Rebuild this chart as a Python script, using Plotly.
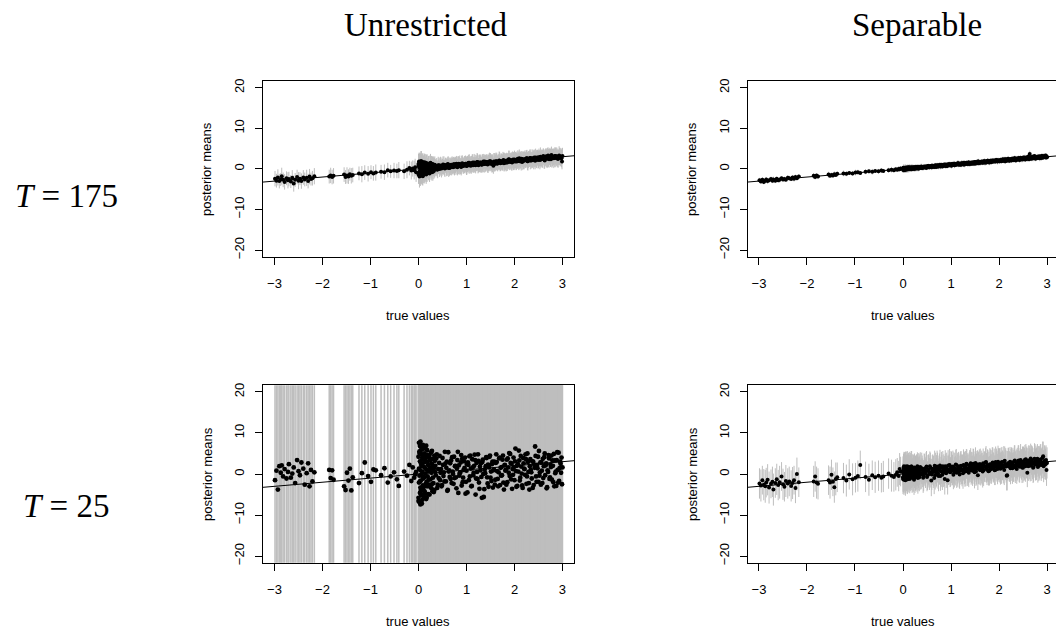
import plotly.graph_objects as go

# true values (shared by all four panels)
true_vals = [
    -2.99, -2.96, -2.93, -2.90, -2.87, -2.85, -2.82, -2.79, -2.75, -2.72,
    -2.70, -2.66, -2.63, -2.60, -2.57, -2.53, -2.50, -2.47, -2.44, -2.40,
    -2.37, -2.33, -2.30, -2.27, -2.24, -2.21, -2.17, -1.86, -1.83, -1.80,
    -1.77, -1.55, -1.52, -1.49, -1.46, -1.43, -1.40, -1.37, -1.24, -1.18,
    -1.12, -1.05, -0.99, -0.94, -0.89, -0.78, -0.71, -0.64, -0.58, -0.51,
    -0.45, -0.41, -0.30, -0.24, -0.19, -0.15, -0.12, -0.09, -0.07, -0.05,
    0.00, 0.00, 0.01, 0.01, 0.01, 0.02, 0.02, 0.02, 0.03, 0.03,
    0.03, 0.04, 0.04, 0.04, 0.05, 0.05, 0.05, 0.06, 0.06, 0.06,
    0.07, 0.07, 0.07, 0.08, 0.08, 0.08, 0.09, 0.09, 0.10, 0.10,
    0.10, 0.11, 0.11, 0.12, 0.12, 0.13, 0.13, 0.14, 0.14, 0.15,
    0.15, 0.16, 0.16, 0.17, 0.17, 0.18, 0.18, 0.19, 0.20, 0.20,
    0.21, 0.22, 0.22, 0.23, 0.24, 0.24, 0.25, 0.26, 0.27, 0.27,
    0.28, 0.29, 0.30, 0.30, 0.31, 0.32, 0.33, 0.33, 0.34, 0.35,
    0.37, 0.39, 0.41, 0.42, 0.44, 0.46, 0.49, 0.51, 0.52, 0.55,
    0.57, 0.58, 0.59, 0.61, 0.63, 0.66, 0.67, 0.70, 0.72, 0.73,
    0.76, 0.78, 0.81, 0.83, 0.84, 0.87, 0.89, 0.92, 0.94, 0.95,
    0.98, 1.00, 1.03, 1.05, 1.06, 1.09, 1.11, 1.12, 1.14, 1.16,
    1.17, 1.20, 1.22, 1.25, 1.27, 1.28, 1.31, 1.33, 1.36, 1.38,
    1.39, 1.42, 1.44, 1.47, 1.49, 1.50, 1.53, 1.55, 1.56, 1.58,
    1.60, 1.61, 1.64, 1.66, 1.69, 1.71, 1.72, 1.75, 1.77, 1.80,
    1.82, 1.83, 1.86, 1.88, 1.91, 1.93, 1.94, 1.97, 1.99, 2.02,
    2.04, 2.05, 2.08, 2.10, 2.11, 2.13, 2.15, 2.16, 2.19, 2.21,
    2.24, 2.26, 2.27, 2.30, 2.32, 2.35, 2.37, 2.38, 2.41, 2.43,
    2.46, 2.48, 2.49, 2.52, 2.54, 2.55, 2.57, 2.59, 2.60, 2.63,
    2.65, 2.68, 2.70, 2.71, 2.74, 2.76, 2.79, 2.81, 2.82, 2.85,
    2.87, 2.88, 2.90, 2.92, 2.93, 2.96, 2.97, 2.98, 2.99, 3.00,
    0.00, 0.02, 0.03, 0.04, 0.05, 0.06, 0.07, 0.08, 0.09, 0.11,
    0.12, 0.13, 0.14, 0.16, 0.17, 0.19, 0.21, 0.23, 0.25, 0.26,
    0.28, 0.29, 0.31, 0.32, 0.34, 0.36, 0.38, 0.40, 0.43, 0.45,
    0.47, 0.48, 0.50, 0.53, 0.54, 0.56, 0.60, 0.62, 0.64, 0.65,
    0.68, 0.69, 0.71, 0.74, 0.75, 0.77, 0.79, 0.80, 0.82, 0.85,
    0.86, 0.88, 0.90, 0.91, 0.93, 0.96, 0.97, 0.99, 1.01, 1.02,
    1.04, 1.07, 1.08, 1.10, 1.13, 1.15, 1.18, 1.19, 1.21, 1.23,
    1.24, 1.26, 1.29, 1.30, 1.32, 1.34, 1.35, 1.37, 1.40, 1.41,
    1.43, 1.45, 1.46, 1.48, 1.51, 1.52, 1.54, 1.57, 1.59, 1.62,
    1.63, 1.65, 1.67, 1.68, 1.70, 1.73, 1.74, 1.76, 1.78, 1.79,
    1.81, 1.84, 1.85, 1.87, 1.89, 1.90, 1.92, 1.95, 1.96, 1.98,
    2.00, 2.01, 2.03, 2.06, 2.07, 2.09, 2.12, 2.14, 2.17, 2.18,
    2.20, 2.22, 2.23, 2.25, 2.28, 2.29, 2.31, 2.33, 2.34, 2.36,
    2.39, 2.40, 2.42, 2.44, 2.45, 2.47, 2.50, 2.51, 2.53, 2.56,
    2.58, 2.61, 2.62, 2.64, 2.66, 2.67, 2.69, 2.72, 2.73, 2.75,
    2.77, 2.78, 2.80, 2.83, 2.84, 2.86, 2.89, 2.91, 2.94, 2.95,
]

# Unrestricted, T = 175
mean_u175 = [
    -2.4, -2.9, -2.1, -3.0, -2.6, -1.8, -2.7, -3.2, -2.3, -2.8,
    -2.5, -3.1, -2.2, -3.6, -2.7, -2.0, -2.9, -2.4, -3.0, -2.1,
    -2.6, -2.2, -3.0, -1.9, -2.5, -2.3, -1.8, -1.9, -1.6, -2.0,
    -1.7, -1.4, -2.0, -1.6, -1.9, -1.3, -1.7, -1.5, -1.1, -1.3,
    -0.9, -1.2, -0.8, -1.1, -0.9, -0.7, -0.8, -0.3, -0.6, -0.4,
    -0.5, -0.3, -0.6, -0.2, 0.2, -0.4, 0.1, -0.3, 0.4, -0.8,
    1.2, -1.4, 0.6, -0.8, 1.8, -1.9, 0.3, 1.5, -1.1, 0.9,
    -0.5, 1.6, -1.7, 0.2, 1.1, -1.2, 0.7, -0.3, 1.9, -1.5,
    0.4, -0.9, 1.4, -1.6, 0.8, -0.2, 1.7, -1.0, 0.5, 1.2,
    -1.3, 0.9, -0.6, 1.5, -1.1, 0.3, 1.0, -0.8, 1.6, -0.4,
    0.7, -1.2, 1.3, -0.5, 0.2, 1.4, -0.9, 0.6, -0.2, 1.1,
    -0.7, 1.0, 0.1, -0.9, 1.2, -0.3, 0.8, -0.6, 1.3, 0.4,
    -0.4, 0.9, 0.2, -0.7, 1.1, 0.5, -0.2, 0.8, 0.0, 0.6,
    0.3, -0.2, 0.9, 0.5, 0.0, 0.8, 0.2, 1.1, 0.4, 0.1,
    0.9, 0.3, 0.6, 1.2, 0.2, 0.8, 0.5, 1.0, 0.4, 0.9,
    0.6, 1.1, 0.4, 0.9, 1.3, 0.7, 0.5, 1.2, 0.8, 1.0,
    1.3, 0.7, 1.1, 0.9, 1.5, 0.8, 1.2, 1.4, 0.9, 1.6,
    1.0, 1.4, 1.7, 0.9, 1.3, 1.6, 1.1, 1.5, 1.2, 1.8,
    1.3, 1.7, 1.1, 1.6, 1.4, 1.9, 1.2, 1.5, 0.8, 1.7,
    1.5, 1.9, 1.3, 1.7, 2.0, 1.4, 1.8, 1.6, 2.2, 1.5,
    2.0, 1.6, 1.9, 2.4, 1.7, 2.1, 1.8, 2.3, 1.9, 2.2,
    1.8, 2.3, 2.0, 2.6, 1.9, 2.2, 2.5, 1.7, 2.1, 2.4,
    2.2, 2.6, 1.9, 2.4, 2.7, 2.1, 2.5, 2.3, 2.8, 2.0,
    2.4, 2.8, 2.2, 2.6, 3.0, 2.3, 2.7, 2.5, 3.2, 2.1,
    2.9, 2.5, 3.3, 2.7, 3.1, 2.4, 2.8, 3.0, 2.6, 3.2,
    2.7, 3.1, 2.5, 2.9, 3.3, 2.8, 3.0, 2.6, 1.8, 3.2,
    0.8, -1.6, 1.4, -0.6, 1.9, -1.3, 0.2, 1.1, -1.8, 0.5,
    1.6, -0.9, 0.4, -1.4, 1.3, -0.3, 0.9, -1.1, 1.5, 0.1,
    -0.8, 1.2, 0.5, -0.5, 1.0, 0.2, 0.7, -0.1, 0.9, 0.4,
    0.8, 0.1, 0.6, 1.0, 0.3, 0.9, 0.4, 1.1, 0.6, 0.2,
    1.0, 0.5, 0.8, 1.2, 0.6, 0.9, 1.3, 0.7, 1.1, 0.8,
    1.2, 0.6, 1.0, 1.4, 0.7, 1.1, 0.9, 1.3, 0.8, 1.2,
    1.5, 0.9, 1.2, 1.0, 1.6, 1.1, 1.4, 0.9, 1.3, 1.7,
    1.1, 1.5, 1.2, 1.6, 1.0, 1.4, 1.8, 1.2, 1.5, 1.3,
    1.7, 1.2, 1.5, 1.9, 1.3, 1.6, 1.4, 1.8, 1.2, 1.7,
    1.9, 1.4, 1.7, 2.1, 1.5, 1.8, 1.6, 2.0, 1.4, 1.9,
    1.7, 2.1, 1.6, 1.9, 2.3, 1.8, 2.0, 1.6, 2.2, 1.9,
    2.3, 1.8, 2.1, 1.9, 2.5, 2.0, 2.2, 1.8, 2.4, 2.1,
    2.0, 2.4, 2.2, 2.6, 1.9, 2.3, 2.5, 2.1, 2.7, 2.3,
    2.6, 2.2, 2.5, 2.8, 2.3, 2.7, 2.4, 2.9, 2.2, 2.6,
    2.5, 2.9, 2.3, 2.7, 3.1, 2.6, 2.8, 2.4, 3.0, 2.7,
    3.4, 2.6, 2.9, 2.7, 3.2, 2.8, 3.0, 2.5, 3.1, 2.9,
]
half_u175 = [
    1.9, 1.7, 2.0, 1.8, 1.6, 2.1, 1.8, 1.9, 1.7, 2.0,
    1.8, 1.6, 1.9, 2.0, 1.7, 1.8, 2.1, 1.6, 1.9, 1.8,
    1.7, 2.0, 1.8, 1.9, 1.6, 1.8, 2.0, 1.7, 1.9, 1.8,
    1.9, 1.8, 1.7, 2.0, 1.8, 1.6, 1.9, 1.8, 1.7, 2.0,
    1.8, 1.9, 1.7, 1.8, 2.0, 1.7, 1.9, 1.8, 1.6, 1.9,
    1.8, 2.0, 1.9, 2.1, 1.8, 2.2, 2.0, 2.3, 2.1, 2.4,
    2.5, 2.3, 2.6, 2.4, 2.2, 2.7, 2.5, 2.3, 2.4, 2.6,
    2.4, 2.2, 2.5, 2.7, 2.3, 2.4, 2.6, 2.2, 2.5, 2.3,
    2.3, 2.5, 2.2, 2.4, 2.6, 2.3, 2.2, 2.5, 2.4, 2.1,
    2.2, 2.4, 2.3, 2.1, 2.5, 2.2, 2.4, 2.3, 2.1, 2.2,
    2.3, 2.1, 2.2, 2.4, 2.0, 2.2, 2.3, 2.1, 2.2, 2.0,
    2.1, 2.2, 2.0, 2.3, 2.1, 2.0, 2.2, 2.1, 1.9, 2.1,
    2.0, 2.1, 1.9, 2.2, 2.0, 2.1, 1.9, 2.0, 2.1, 1.9,
    2.0, 1.9, 2.1, 1.8, 2.0, 2.2, 1.9, 2.0, 1.8, 2.1,
    1.9, 2.1, 2.0, 1.8, 2.2, 1.9, 2.0, 2.1, 1.8, 2.0,
    2.1, 1.9, 2.0, 2.2, 1.8, 2.0, 2.1, 1.9, 2.0, 1.8,
    2.0, 2.2, 1.9, 2.0, 2.1, 1.8, 2.0, 2.2, 1.9, 2.1,
    1.9, 2.0, 2.2, 1.8, 2.1, 2.0, 1.9, 2.1, 2.0, 1.8,
    2.1, 1.9, 2.0, 2.2, 1.9, 2.0, 2.1, 1.8, 2.0, 2.2,
    2.0, 2.1, 1.8, 2.0, 2.2, 1.9, 2.1, 2.0, 1.8, 2.1,
    1.9, 2.2, 2.0, 2.1, 1.9, 2.0, 2.2, 1.9, 2.1, 2.0,
    2.1, 2.0, 1.9, 2.2, 2.0, 2.1, 1.9, 2.0, 2.2, 1.9,
    2.0, 2.1, 2.2, 1.9, 2.1, 2.0, 2.3, 1.9, 2.0, 2.1,
    2.2, 1.9, 2.1, 2.0, 2.3, 2.0, 2.1, 2.2, 1.9, 2.0,
    2.1, 2.3, 2.0, 2.2, 2.1, 1.9, 2.2, 2.0, 2.4, 2.1,
    2.0, 2.2, 2.1, 1.9, 2.3, 2.0, 2.1, 2.2, 1.9, 2.0,
    2.4, 2.2, 2.6, 2.3, 2.5, 2.2, 2.4, 2.6, 2.3, 2.5,
    2.2, 2.4, 2.1, 2.3, 2.2, 2.0, 2.3, 2.1, 2.2, 2.0,
    2.1, 1.9, 2.2, 2.0, 2.1, 1.9, 2.0, 2.2, 1.9, 2.1,
    2.0, 2.2, 1.9, 2.1, 2.0, 1.8, 2.1, 2.0, 2.2, 1.9,
    1.9, 2.1, 2.0, 1.8, 2.2, 2.0, 1.9, 2.1, 2.0, 2.2,
    2.1, 1.9, 2.2, 2.0, 1.8, 2.1, 2.0, 1.9, 2.2, 2.0,
    2.0, 2.1, 1.9, 2.2, 2.0, 1.9, 2.1, 2.0, 1.8, 2.1,
    2.2, 2.0, 2.1, 1.9, 2.0, 2.2, 1.9, 2.1, 2.0, 1.9,
    1.9, 2.2, 2.0, 2.1, 1.9, 2.0, 2.2, 2.1, 1.9, 2.0,
    2.1, 2.0, 1.8, 2.2, 2.1, 1.9, 2.0, 2.2, 2.0, 2.1,
    2.0, 1.9, 2.1, 2.0, 2.2, 2.1, 1.9, 2.0, 2.1, 2.2,
    2.2, 2.1, 2.0, 1.9, 2.1, 2.3, 2.0, 2.2, 1.9, 2.1,
    2.1, 2.2, 1.9, 2.0, 2.3, 2.1, 2.0, 2.2, 2.1, 1.9,
    2.0, 2.3, 2.1, 2.2, 1.9, 2.0, 2.2, 2.1, 2.3, 2.0,
    2.2, 2.0, 2.3, 2.1, 2.0, 2.2, 2.4, 2.1, 2.0, 2.2,
    2.1, 2.3, 2.0, 2.2, 2.1, 2.4, 2.0, 2.2, 2.1, 2.3,
]

# Separable, T = 175
mean_s175 = [
    -2.8, -3.1, -2.7, -3.2, -2.9, -2.6, -3.0, -2.8, -2.5, -2.9,
    -2.6, -2.9, -2.4, -2.8, -2.7, -2.3, -2.6, -2.5, -2.7, -2.2,
    -2.3, -2.5, -2.1, -2.4, -2.0, -2.3, -1.9, -1.7, -2.0, -1.6,
    -1.9, -1.4, -1.7, -1.5, -1.6, -1.3, -1.5, -1.2, -1.1, -1.2,
    -1.0, -1.1, -0.9, -0.8, -1.0, -0.7, -0.6, -0.7, -0.5, -0.6,
    -0.4, -0.5, -0.3, -0.2, -0.3, -0.1, -0.2, 0.0, -0.1, 0.1,
    0.1, -0.2, 0.2, -0.1, 0.3, 0.0, -0.3, 0.2, -0.1, 0.1,
    0.2, -0.2, 0.0, 0.3, -0.1, 0.1, 0.2, -0.2, 0.3, 0.0,
    0.1, 0.3, -0.1, 0.2, 0.0, 0.3, -0.1, 0.2, 0.1, 0.4,
    0.0, 0.2, 0.3, -0.1, 0.2, 0.4, 0.1, 0.0, 0.3, 0.2,
    0.1, 0.3, 0.0, 0.2, 0.4, 0.1, 0.3, 0.0, 0.2, 0.4,
    0.1, 0.3, 0.2, 0.0, 0.4, 0.2, 0.3, 0.1, 0.5, 0.2,
    0.3, 0.1, 0.4, 0.2, 0.5, 0.3, 0.1, 0.4, 0.2, 0.5,
    0.4, 0.2, 0.5, 0.3, 0.6, 0.4, 0.3, 0.7, 0.5, 0.4,
    0.7, 0.5, 0.4, 0.8, 0.6, 0.5, 0.9, 0.7, 0.6, 0.9,
    0.8, 0.6, 1.0, 0.7, 0.9, 1.1, 0.8, 0.7, 1.1, 0.9,
    1.1, 0.9, 1.2, 1.0, 1.3, 1.0, 1.2, 1.1, 1.4, 1.0,
    1.3, 1.1, 1.4, 1.2, 1.5, 1.1, 1.4, 1.3, 1.6, 1.2,
    1.5, 1.3, 1.6, 1.4, 1.7, 1.3, 1.6, 1.5, 1.8, 1.4,
    1.7, 1.5, 1.8, 1.6, 1.9, 1.5, 1.8, 1.7, 2.0, 1.6,
    2.0, 1.7, 2.1, 1.8, 2.0, 1.9, 2.2, 1.8, 2.1, 1.9,
    2.2, 1.9, 2.3, 2.0, 2.4, 1.9, 2.3, 2.1, 2.5, 2.0,
    2.4, 2.1, 2.5, 2.2, 2.6, 2.1, 2.5, 2.3, 2.7, 2.2,
    2.6, 2.3, 2.7, 2.4, 2.8, 2.3, 2.7, 2.5, 3.0, 2.4,
    2.8, 2.5, 3.0, 2.6, 3.2, 2.5, 2.9, 2.7, 3.0, 2.6,
    3.0, 2.7, 3.2, 2.8, 3.1, 2.9, 3.3, 2.8, 3.1, 2.9,
    0.1, -0.2, 0.2, 0.0, 0.3, -0.1, 0.2, 0.1, -0.1, 0.3,
    0.0, 0.3, 0.1, 0.2, -0.1, 0.3, 0.2, 0.4, 0.1, 0.3,
    0.4, 0.2, 0.5, 0.1, 0.4, 0.3, 0.6, 0.2, 0.5, 0.4,
    0.6, 0.3, 0.5, 0.7, 0.4, 0.6, 0.8, 0.5, 0.7, 0.6,
    0.8, 0.5, 0.9, 0.6, 0.8, 1.0, 0.7, 0.9, 0.6, 1.0,
    0.9, 0.7, 1.1, 0.8, 1.0, 1.2, 0.9, 1.1, 0.8, 1.2,
    1.1, 0.9, 1.3, 1.0, 1.2, 1.4, 1.1, 1.3, 1.0, 1.4,
    1.3, 1.1, 1.4, 1.2, 1.5, 1.3, 1.2, 1.6, 1.3, 1.5,
    1.5, 1.3, 1.6, 1.4, 1.7, 1.5, 1.4, 1.8, 1.5, 1.7,
    1.7, 1.5, 1.8, 1.6, 1.9, 1.7, 1.6, 2.0, 1.7, 1.9,
    1.9, 1.7, 2.0, 1.8, 2.1, 1.9, 1.8, 2.2, 1.9, 2.1,
    2.1, 1.9, 2.2, 2.0, 2.3, 2.1, 2.0, 2.4, 2.1, 2.3,
    2.3, 2.1, 2.4, 2.2, 2.5, 2.3, 2.2, 2.6, 2.3, 2.5,
    2.5, 2.3, 2.6, 2.4, 2.7, 2.5, 2.4, 2.8, 2.5, 2.7,
    2.7, 2.5, 2.8, 3.7, 2.9, 2.6, 2.8, 3.0, 2.7, 2.9,
    2.9, 2.7, 3.0, 2.8, 3.1, 2.9, 3.2, 2.8, 3.0, 3.1,
]
half_s175 = [
    0.6, 0.5, 0.7, 0.6, 0.5, 0.6, 0.7, 0.5, 0.6, 0.6,
    0.7, 0.6, 0.5, 0.6, 0.7, 0.5, 0.6, 0.6, 0.5, 0.7,
    0.6, 0.5, 0.6, 0.7, 0.6, 0.5, 0.6, 0.7, 0.6, 0.5,
    0.6, 0.7, 0.5, 0.6, 0.6, 0.7, 0.5, 0.6, 0.7, 0.6,
    0.5, 0.6, 0.7, 0.6, 0.5, 0.6, 0.6, 0.7, 0.5, 0.6,
    0.6, 0.5, 0.6, 0.7, 0.6, 0.6, 0.5, 0.7, 0.6, 0.6,
    0.7, 0.8, 0.6, 0.7, 0.8, 0.7, 0.6, 0.8, 0.7, 0.7,
    0.8, 0.7, 0.6, 0.7, 0.8, 0.6, 0.7, 0.8, 0.7, 0.6,
    0.7, 0.6, 0.8, 0.7, 0.6, 0.7, 0.8, 0.6, 0.7, 0.7,
    0.6, 0.7, 0.7, 0.8, 0.6, 0.7, 0.6, 0.7, 0.8, 0.6,
    0.7, 0.6, 0.7, 0.6, 0.8, 0.7, 0.6, 0.7, 0.6, 0.7,
    0.6, 0.7, 0.6, 0.7, 0.6, 0.7, 0.6, 0.6, 0.7, 0.6,
    0.6, 0.7, 0.6, 0.6, 0.7, 0.6, 0.6, 0.7, 0.6, 0.6,
    0.6, 0.5, 0.6, 0.7, 0.5, 0.6, 0.6, 0.5, 0.7, 0.6,
    0.5, 0.6, 0.7, 0.6, 0.5, 0.6, 0.6, 0.7, 0.5, 0.6,
    0.6, 0.7, 0.5, 0.6, 0.6, 0.5, 0.7, 0.6, 0.6, 0.5,
    0.7, 0.6, 0.6, 0.5, 0.7, 0.6, 0.5, 0.6, 0.7, 0.6,
    0.6, 0.5, 0.7, 0.6, 0.6, 0.7, 0.5, 0.6, 0.6, 0.7,
    0.5, 0.6, 0.6, 0.7, 0.5, 0.6, 0.7, 0.6, 0.5, 0.6,
    0.6, 0.7, 0.5, 0.6, 0.6, 0.7, 0.6, 0.5, 0.6, 0.7,
    0.7, 0.6, 0.6, 0.5, 0.7, 0.6, 0.6, 0.7, 0.5, 0.6,
    0.6, 0.5, 0.7, 0.6, 0.6, 0.7, 0.5, 0.6, 0.7, 0.6,
    0.5, 0.6, 0.7, 0.6, 0.6, 0.5, 0.7, 0.6, 0.6, 0.7,
    0.6, 0.7, 0.6, 0.5, 0.7, 0.6, 0.6, 0.7, 0.6, 0.5,
    0.7, 0.6, 0.6, 0.7, 0.5, 0.6, 0.7, 0.6, 0.6, 0.7,
    0.6, 0.7, 0.6, 0.6, 0.7, 0.6, 0.5, 0.6, 0.7, 0.6,
    0.7, 0.8, 0.6, 0.7, 0.8, 0.6, 0.7, 0.8, 0.7, 0.6,
    0.7, 0.6, 0.8, 0.7, 0.6, 0.7, 0.7, 0.6, 0.8, 0.7,
    0.6, 0.7, 0.6, 0.7, 0.6, 0.6, 0.7, 0.6, 0.5, 0.6,
    0.6, 0.5, 0.7, 0.6, 0.6, 0.5, 0.6, 0.7, 0.6, 0.5,
    0.5, 0.6, 0.6, 0.7, 0.5, 0.6, 0.7, 0.6, 0.5, 0.6,
    0.7, 0.6, 0.5, 0.6, 0.7, 0.6, 0.6, 0.5, 0.7, 0.6,
    0.6, 0.7, 0.6, 0.5, 0.6, 0.7, 0.5, 0.6, 0.6, 0.7,
    0.5, 0.6, 0.7, 0.6, 0.6, 0.5, 0.7, 0.6, 0.7, 0.6,
    0.6, 0.5, 0.6, 0.7, 0.5, 0.6, 0.6, 0.7, 0.6, 0.5,
    0.7, 0.6, 0.6, 0.5, 0.7, 0.6, 0.5, 0.6, 0.7, 0.6,
    0.6, 0.7, 0.5, 0.6, 0.6, 0.7, 0.6, 0.5, 0.6, 0.7,
    0.5, 0.6, 0.7, 0.6, 0.5, 0.6, 0.7, 0.6, 0.6, 0.5,
    0.6, 0.6, 0.5, 0.7, 0.6, 0.5, 0.6, 0.7, 0.6, 0.6,
    0.7, 0.5, 0.6, 0.6, 0.7, 0.6, 0.5, 0.6, 0.7, 0.6,
    0.6, 0.7, 0.6, 0.8, 0.6, 0.5, 0.7, 0.6, 0.6, 0.7,
    0.6, 0.6, 0.7, 0.5, 0.6, 0.7, 0.6, 0.6, 0.5, 0.7,
]

# Unrestricted, T = 25
mean_u25 = [
    -1.5, 0.8, -3.8, 1.9, 0.3, 2.1, -0.6, 1.2, -1.1, 0.5,
    2.4, -0.9, 0.1, 1.6, -2.2, 3.4, 0.7, -0.3, 2.8, 1.3,
    -2.6, 0.2, 2.6, -3.0, 1.0, -1.8, 0.4, 1.0, -1.0, 0.9,
    -1.4, -3.0, -3.9, 0.3, -1.6, 1.3, -4.0, -0.8, -2.2, 0.2,
    2.8, -0.5, -1.9, 1.1, 0.9, -0.3, 1.4, -2.1, -0.6, 0.4,
    -1.3, -2.9, 0.6, -0.4, 2.2, -1.7, 1.6, -0.9, -0.1, 0.5,
    4.2, -5.8, 7.6, -2.1, 1.3, -6.9, 5.5, -0.4, 3.1, -4.6,
    6.8, -3.3, 0.9, -7.4, 2.7, 4.9, -1.6, 5.9, -5.2, -0.2,
    2.4, -4.0, 6.1, 0.5, -6.3, 3.6, -2.8, 7.1, -1.1, 4.4,
    -3.7, 1.8, -5.5, 5.0, -0.8, 2.9, -4.3, 6.4, 0.1, -2.4,
    3.9, -6.1, 1.1, -1.9, 4.7, -3.0, 5.8, -0.6, 2.2, -4.9,
    0.7, -2.6, 4.1, -5.0, 1.6, 3.3, -1.3, 5.2, -3.5, 0.3,
    2.5, -4.2, -0.9, 3.7, -2.2, 1.4, 4.5, -3.9, 0.6, 2.0,
    3.8, -3.4, 1.2, -1.0, 4.4, 0.3, -2.7, 2.2, -0.5, 5.4,
    -1.8, 1.5, 3.0, -3.9, 0.6, 2.6, -1.2, 4.1, 0.0, -2.4,
    1.9, -0.8, 3.4, -4.6, 2.1, 0.4, 4.6, -2.0, 1.0, 3.1,
    -4.8, 0.8, 2.8, -1.5, 4.3, 1.3, -2.9, 3.6, -0.3, 2.0,
    4.7, -1.1, 0.5, 3.2, -3.6, 1.8, -0.7, 2.9, -5.6, 1.1,
    0.2, 3.9, -2.3, 1.6, 4.5, -0.9, 2.4, -3.3, 0.9, 3.0,
    -1.4, 2.7, 0.7, -3.0, 4.0, 1.5, -0.4, 3.5, -2.1, 2.2,
    1.0, -2.6, 3.8, 0.3, 4.9, -1.3, 2.5, -0.2, 1.7, 6.2,
    -3.1, 2.0, 0.6, 3.3, -1.6, 4.4, 0.1, -2.8, 2.6, 1.2,
    3.6, -0.6, 5.0, -2.2, 1.9, 0.4, 3.1, -3.4, 2.3, 6.7,
    -1.9, 1.4, 4.2, -0.4, 2.8, -2.6, 0.8, 3.7, -1.0, 5.0,
    2.1, -3.2, 0.5, 4.6, -0.8, 1.7, 3.3, -2.0, 4.9, 0.2,
    -2.9, 3.4, 1.0, 5.2, -1.7, 2.5, 0.3, 4.0, -2.5, 1.6,
    -6.6, 5.1, -1.8, 7.9, -3.9, 2.0, -7.2, 4.0, -0.7, 6.2,
    -4.8, 1.5, -2.9, 6.9, -5.7, 3.0, -1.4, 4.6, -3.2, 0.8,
    5.6, -2.4, 1.9, -4.4, 3.2, -0.3, 4.8, -2.6, 2.7, -1.5,
    1.2, -3.0, 3.9, 0.4, -1.8, 2.5, -4.1, 5.3, 0.9, -0.7,
    3.3, -2.2, 0.6, 4.2, -1.0, 2.0, -3.5, 1.4, 5.4, -0.4,
    0.2, 2.8, -2.8, 3.7, -0.9, 1.5, 4.0, -1.9, 2.4, -4.5,
    2.2, -0.6, 4.5, -3.0, 1.6, 0.3, 3.4, -5.0, 2.7, -1.2,
    4.8, -2.1, 0.9, 2.6, -5.8, 3.5, 0.0, -3.7, 1.9, 4.1,
    -0.8, 2.3, -3.1, 4.2, 0.6, -1.7, 3.0, 1.1, -2.6, 4.8,
    2.9, -1.2, 0.4, 3.8, -2.7, 1.7, -0.3, 4.5, -3.8, 2.1,
    0.8, 3.5, -2.0, 1.6, 5.1, -0.5, 2.7, -3.6, 1.2, 4.0,
    -1.5, 3.1, 0.7, -2.9, 2.4, 5.7, -0.9, 1.8, -3.4, 3.9,
    1.3, -0.2, 4.8, -2.4, 2.9, 0.5, -3.8, 3.6, 1.0, -1.1,
    3.0, -2.7, 1.5, 4.4, -0.6, 2.2, -1.9, 5.6, 0.4, 2.8,
    -2.2, 1.9, 4.1, -0.3, 2.6, -3.5, 0.9, 3.8, -1.2, 2.3,
    4.5, -1.4, 2.0, -3.0, 3.3, 0.6, 5.3, -2.1, 1.4, 3.0,
]
half_u25 = [
    34, 41, 29, 52, 38, 45, 31, 57, 36, 43,
    48, 33, 55, 39, 30, 46, 61, 35, 42, 50,
    37, 44, 32, 58, 40, 47, 34, 53, 38, 31,
    45, 36, 59, 42, 33, 49, 40, 35, 54, 46,
    39, 30, 51, 43, 37, 56, 34, 48, 41, 32,
    47, 38, 60, 35, 44, 31, 52, 39, 46, 36,
    42, 55, 33, 48, 37, 61, 40, 45, 30, 53,
    36, 43, 58, 34, 49, 38, 41, 56, 32, 47,
    51, 35, 44, 39, 62, 33, 46, 40, 54, 37,
    43, 57, 31, 48, 36, 42, 59, 34, 45, 50,
    38, 33, 47, 55, 41, 36, 44, 60, 32, 49,
    35, 52, 40, 37, 46, 58, 31, 43, 39, 54,
    48, 34, 42, 36, 57, 45, 38, 33, 51, 40,
    37, 44, 30, 49, 41, 35, 53, 46, 32, 39,
    45, 38, 56, 33, 42, 50, 36, 47, 59, 34,
    31, 48, 40, 44, 35, 52, 39, 37, 43, 55,
    46, 33, 51, 38, 60, 36, 42, 49, 34, 41,
    39, 54, 35, 47, 32, 45, 57, 38, 44, 30,
    50, 37, 43, 36, 48, 41, 33, 55, 40, 46,
    35, 42, 58, 31, 44, 39, 52, 34, 47, 38,
    43, 49, 36, 54, 40, 33, 45, 61, 37, 42,
    32, 46, 41, 38, 53, 35, 48, 40, 56, 36,
    47, 34, 50, 43, 37, 59, 39, 44, 31, 52,
    38, 55, 33, 46, 42, 36, 49, 35, 45, 40,
    53, 39, 44, 32, 57, 41, 37, 48, 34, 43,
    36, 47, 40, 51, 35, 44, 38, 58, 42, 39,
    44, 37, 52, 31, 48, 40, 57, 35, 46, 39,
    33, 50, 42, 38, 55, 36, 45, 61, 34, 47,
    41, 53, 30, 46, 39, 58, 35, 43, 49, 37,
    56, 38, 44, 32, 51, 40, 36, 47, 59, 42,
    35, 48, 41, 54, 37, 45, 31, 50, 43, 38,
    47, 33, 57, 40, 36, 49, 44, 34, 52, 41,
    39, 55, 37, 43, 60, 35, 48, 42, 31, 46,
    51, 36, 45, 38, 47, 33, 56, 40, 44, 37,
    42, 58, 34, 49, 39, 46, 37, 53, 35, 48,
    36, 44, 50, 41, 33, 57, 43, 38, 47, 40,
    53, 39, 35, 46, 42, 31, 49, 45, 36, 55,
    40, 47, 43, 37, 52, 44, 34, 59, 41, 38,
    45, 32, 56, 39, 48, 36, 42, 50, 33, 47,
    38, 49, 41, 54, 35, 43, 60, 37, 46, 42,
    57, 41, 36, 45, 39, 50, 33, 47, 44, 35,
    43, 37, 52, 40, 46, 34, 49, 38, 55, 41,
]

# Separable, T = 25
mean_s25 = [
    -2.3, -2.8, -1.5, -2.6, -3.0, -2.1, -1.4, -3.3, -2.4, -1.9,
    -3.8, -2.2, -1.3, -2.7, -2.0, -0.6, -2.5, -3.1, -1.7, -2.3,
    -1.8, -2.9, -2.2, -1.5, -3.4, 0.0, -2.0, -1.8, -0.6, -2.1,
    -2.4, -1.5, -2.1, -0.2, -1.9, -3.2, -1.2, -0.8, -1.0, -1.6,
    -0.1, -1.3, -0.9, -0.5, 2.2, -0.7, -1.4, -0.3, -0.8, -0.4,
    -0.9, -0.6, 0.1, -0.4, -0.7, -0.2, 0.4, -0.5, 1.2, 0.6,
    0.8, -1.2, 1.5, 0.2, -0.7, 1.9, -1.4, 0.5, 1.1, -0.3,
    1.7, -0.9, 0.3, 1.4, -1.5, 0.9, -0.1, 1.8, -1.1, 0.6,
    -0.4, 1.2, 0.0, 1.6, -0.8, 0.4, 1.9, -1.3, 0.7, 1.3,
    -0.6, 1.0, 0.2, -1.0, 1.5, 0.5, -0.2, 1.7, -1.2, 0.8,
    0.3, 1.4, -0.7, 0.9, -0.3, 1.8, 0.1, -0.9, 1.2, 0.4,
    -0.5, 1.1, 0.6, -1.4, 1.6, 0.2, -0.8, 1.0, 0.5, -0.2,
    1.3, -0.6, 0.7, 1.9, -1.0, 0.4, 1.5, -0.3, 0.8, 1.2,
    -0.2, 1.4, 0.3, -0.9, 1.1, 0.6, 1.8, -0.4, 0.9, 0.0,
    1.5, 0.2, -1.6, 1.0, 0.5, 2.0, -0.3, 0.8, 1.6, 0.1,
    1.2, -0.5, 0.7, 1.9, 0.3, -1.2, 1.4, 0.6, 2.1, 0.9,
    0.4, 1.7, 1.0, -0.2, 1.5, 0.8, 2.2, 0.3, 1.3, 1.9,
    0.6, 1.8, 1.1, 0.2, 2.0, 1.4, 0.7, 2.4, 1.0, 1.6,
    2.1, 0.9, 1.5, 2.5, 0.4, 1.8, 1.2, 2.3, -0.3, 1.6,
    1.0, 2.4, 1.4, 0.6, 2.0, 1.7, 2.8, 1.1, 1.9, 0.8,
    2.2, 1.3, 2.6, 1.6, 0.9, 2.9, 1.9, 1.2, 2.4, 1.7,
    2.7, 1.5, 2.1, 3.0, 1.0, 2.4, 1.8, -0.4, 2.6, 1.9,
    1.4, 2.8, 2.2, 1.7, 3.1, 2.0, 1.2, 2.6, 3.3, 1.8,
    2.5, 1.6, 3.0, 2.2, 3.5, 1.9, 2.7, 0.3, 2.4, 3.2,
    2.0, 3.4, 2.6, 1.5, 3.7, 2.3, 2.9, 1.7, 3.1, 2.5,
    3.6, 2.2, 2.8, 4.3, 1.9, 3.0, 2.4, 3.4, 1.0, 2.7,
    -0.8, 1.3, 0.2, -1.1, 1.6, 0.5, -0.4, 1.0, -1.3, 0.7,
    1.5, -0.6, 0.9, -0.2, 1.8, 0.3, -0.9, 1.2, 0.6, -0.5,
    0.9, -0.3, 1.4, 0.4, -0.8, 1.7, 0.1, 1.0, -0.4, 1.3,
    0.2, 1.5, -0.7, 1.1, 0.6, 1.9, -0.1, 1.3, 0.8, -1.0,
    1.4, 0.3, 1.8, -0.5, 1.0, 2.1, 0.6, 1.5, -0.2, 1.2,
    0.7, 1.9, 0.2, 1.4, -1.5, 1.1, 2.2, 0.5, 1.6, 0.9,
    1.8, 0.4, 1.3, 2.3, 0.8, 1.6, -0.1, 1.2, 2.0, 0.9,
    1.1, 2.2, 0.6, 1.7, 2.5, 0.9, 1.4, 0.3, 1.9, 2.6,
    1.6, 0.8, 2.3, 1.2, 2.7, 0.6, 1.9, 1.4, 2.4, 1.0,
    2.0, 1.3, 2.6, 0.9, 1.8, 2.9, 1.5, 2.2, 0.7, 1.7,
    2.4, 1.2, 2.0, 2.8, 1.6, 2.3, 1.0, 2.6, 1.9, 3.0,
    1.7, 2.5, 1.3, 2.9, 2.1, 1.5, 3.2, 2.4, -0.3, 2.0,
    2.6, 1.8, 3.0, 2.2, 1.4, 2.8, 2.0, 3.3, 1.6, 2.5,
    2.1, 3.1, 1.8, 2.7, 3.4, 2.3, 1.5, 2.9, 2.5, 3.6,
    2.8, 1.9, 3.3, 2.5, 3.8, 2.2, 3.0, 1.7, 2.7, 3.5,
    3.1, 2.4, 3.7, 2.0, 2.9, 3.4, 2.6, 4.0, 2.3, 3.2,
]
half_s25 = [
    3.7, 3.9, 3.5, 3.8, 4.0, 3.6, 3.8, 3.9, 3.5, 3.7,
    3.9, 3.6, 3.8, 3.7, 4.0, 3.5, 3.8, 3.6, 3.9, 3.7,
    3.6, 3.8, 3.9, 3.5, 3.7, 4.0, 3.6, 3.8, 3.7, 3.9,
    3.8, 3.6, 3.9, 3.7, 3.5, 3.8, 4.0, 3.6, 3.7, 3.9,
    3.7, 3.9, 3.6, 3.8, 3.5, 3.7, 3.9, 3.6, 3.8, 3.7,
    3.6, 3.8, 3.7, 3.9, 3.6, 3.8, 3.5, 3.7, 3.9, 3.6,
    3.5, 3.7, 3.4, 3.6, 3.8, 3.5, 3.7, 3.4, 3.6, 3.8,
    3.6, 3.4, 3.7, 3.5, 3.8, 3.6, 3.4, 3.7, 3.5, 3.6,
    3.7, 3.5, 3.6, 3.8, 3.4, 3.6, 3.7, 3.5, 3.8, 3.6,
    3.4, 3.6, 3.8, 3.5, 3.7, 3.4, 3.6, 3.7, 3.5, 3.8,
    3.6, 3.7, 3.5, 3.4, 3.6, 3.8, 3.5, 3.7, 3.6, 3.4,
    3.8, 3.5, 3.6, 3.7, 3.4, 3.6, 3.8, 3.5, 3.7, 3.6,
    3.5, 3.7, 3.6, 3.4, 3.8, 3.5, 3.6, 3.7, 3.5, 3.6,
    3.6, 3.8, 3.5, 3.7, 3.9, 3.6, 3.8, 3.5, 3.7, 3.9,
    3.7, 3.5, 3.8, 3.6, 3.9, 3.7, 3.5, 3.8, 3.6, 3.7,
    3.8, 3.6, 3.9, 3.7, 3.5, 3.8, 3.6, 3.9, 3.7, 3.6,
    3.6, 3.9, 3.7, 3.5, 3.8, 3.6, 3.9, 3.7, 3.8, 3.5,
    3.9, 3.7, 3.6, 3.8, 3.5, 3.9, 3.7, 3.6, 3.8, 3.7,
    3.7, 3.5, 3.8, 3.6, 3.9, 3.7, 3.8, 3.5, 3.6, 3.9,
    3.6, 3.8, 3.7, 3.9, 3.5, 3.7, 3.6, 3.8, 3.9, 3.6,
    3.8, 3.6, 3.9, 3.7, 3.6, 3.8, 3.5, 3.7, 3.9, 3.8,
    3.7, 3.9, 3.6, 3.8, 3.7, 3.5, 3.9, 3.6, 3.8, 3.7,
    3.9, 3.7, 3.8, 3.6, 3.9, 3.7, 3.6, 3.8, 3.7, 3.9,
    3.6, 3.8, 3.7, 3.9, 3.6, 3.8, 3.7, 3.5, 3.9, 3.7,
    3.8, 3.6, 3.9, 3.7, 3.8, 3.9, 3.6, 3.8, 3.7, 3.9,
    3.7, 3.9, 3.8, 3.6, 3.9, 3.7, 3.8, 3.6, 3.9, 3.8,
    3.5, 3.7, 3.4, 3.6, 3.8, 3.5, 3.7, 3.4, 3.6, 3.8,
    3.6, 3.4, 3.7, 3.5, 3.8, 3.6, 3.4, 3.7, 3.5, 3.6,
    3.7, 3.5, 3.6, 3.8, 3.4, 3.6, 3.7, 3.5, 3.8, 3.6,
    3.6, 3.8, 3.5, 3.7, 3.9, 3.6, 3.8, 3.5, 3.7, 3.9,
    3.8, 3.6, 3.9, 3.7, 3.5, 3.8, 3.6, 3.9, 3.7, 3.6,
    3.7, 3.9, 3.6, 3.8, 3.5, 3.7, 3.9, 3.6, 3.8, 3.7,
    3.9, 3.7, 3.8, 3.6, 3.9, 3.7, 3.5, 3.8, 3.6, 3.9,
    3.6, 3.8, 3.7, 3.9, 3.6, 3.8, 3.7, 3.5, 3.9, 3.7,
    3.8, 3.7, 3.9, 3.6, 3.8, 3.5, 3.7, 3.9, 3.6, 3.8,
    3.7, 3.9, 3.6, 3.8, 3.7, 3.9, 3.6, 3.8, 3.5, 3.7,
    3.9, 3.6, 3.8, 3.7, 3.5, 3.9, 3.7, 3.6, 3.8, 3.9,
    3.6, 3.8, 3.9, 3.7, 3.6, 3.8, 3.5, 3.9, 3.7, 3.6,
    3.8, 3.7, 3.6, 3.9, 3.8, 3.6, 3.9, 3.7, 3.8, 3.5,
    3.7, 3.9, 3.8, 3.6, 3.9, 3.7, 3.6, 3.8, 3.9, 3.7,
    3.9, 3.6, 3.7, 3.8, 3.6, 3.9, 3.8, 3.7, 3.6, 3.8,
    3.8, 3.9, 3.6, 3.7, 3.9, 3.8, 3.7, 3.9, 3.6, 3.8,
]

col_titles = ["Unrestricted", "Separable"]
row_titles = ["<i>T</i> = 175", "<i>T</i> = 25"]
x_ticks = [-3, -2, -1, 0, 1, 2, 3]
y_ticks = [-20, -10, 0, 10, 20]

W, H = 1056, 635
GREY = "#bebebe"
SANS = "Liberation Sans, Arial, sans-serif"
SERIF = "Liberation Serif, DejaVu Serif, serif"

# panel boxes in pixels (left, right) and (top, bottom)
col_px = [(263, 574), (748, 1056)]
row_px = [(79, 256), (386, 565)]
x_ranges = [[-3.24, 3.24], [-3.229, 3.1875]]
y_range = [-21.6, 21.6]

panels = [
    (0, 0, mean_u175, half_u175),
    (0, 1, mean_s175, half_s175),
    (1, 0, mean_u25, half_u25),
    (1, 1, mean_s25, half_s25),
]

fig = go.Figure()
annotations = []

for i, (r, c, means, half) in enumerate(panels):
    n = "" if i == 0 else str(i + 1)
    xl, xr = col_px[c]
    yt, yb = row_px[r]
    wide = (r, c) == (1, 0)
    fig.add_trace(go.Scatter(
        x=true_vals, y=means, mode="markers",
        marker=dict(color="black", size=4.8 if wide else 4, line_width=0),
        error_y=dict(type="data", array=half, color=GREY,
                     thickness=1.5 if wide else 1, width=0),
        xaxis="x" + n, yaxis="y" + n, showlegend=False, hoverinfo="skip",
    ))
    # 45-degree reference line
    fig.add_shape(type="line", xref="x" + n, yref="y" + n,
                  x0=-10, y0=-10, x1=10, y1=10,
                  line=dict(color="black", width=1))

    axis_common = dict(showgrid=False, zeroline=False, showline=True,
                       linecolor="black", linewidth=1, ticks="outside",
                       ticklen=7, tickcolor="black", tickwidth=1,
                       tickfont=dict(family=SANS, size=13, color="black"))
    fig.update_layout(**{
        "xaxis" + n: dict(domain=[xl / W, xr / W], range=x_ranges[c],
                          tickvals=x_ticks, anchor="y" + n, mirror=True,
                          ticklabelstandoff=8, **axis_common),
        "yaxis" + n: dict(domain=[1 - yb / H, 1 - yt / H], range=y_range,
                          tickvals=y_ticks, anchor="x" + n,
                          mirror=(c == 0), tickangle=-90,
                          ticklabelstandoff=6, **axis_common),
    })

    annotations.append(dict(
        text="true values", x=(xl + 155) / W,
        y=1 - (yb + 59) / H, xref="paper", yref="paper", showarrow=False,
        xanchor="center", yanchor="middle",
        font=dict(family=SANS, size=13, color="black")))
    annotations.append(dict(
        text="posterior means", x=(xl - 56) / W, y=1 - (yt + yb) / 2 / H,
        xref="paper", yref="paper", showarrow=False, textangle=-90,
        xanchor="center", yanchor="middle",
        font=dict(family=SANS, size=13, color="black")))

for c, t in enumerate(col_titles):
    annotations.append(dict(
        text=t, x=[426, 917][c] / W, y=1 - 22 / H, xref="paper", yref="paper",
        showarrow=False, xanchor="center", yanchor="middle",
        font=dict(family=SERIF, size=33, color="black")))
for r, t in enumerate(row_titles):
    annotations.append(dict(
        text=t, x=66 / W, y=1 - [195, 508][r] / H, xref="paper", yref="paper",
        showarrow=False, xanchor="center", yanchor="middle",
        font=dict(family=SERIF, size=33, color="black")))

fig.update_layout(
    width=W, height=H, margin=dict(l=0, r=0, t=0, b=0),
    paper_bgcolor="white", plot_bgcolor="white",
    annotations=annotations,
)

fig.write_html("out.html", config={"displayModeBar": False},
               post_script="document.body.style.margin='0';")
